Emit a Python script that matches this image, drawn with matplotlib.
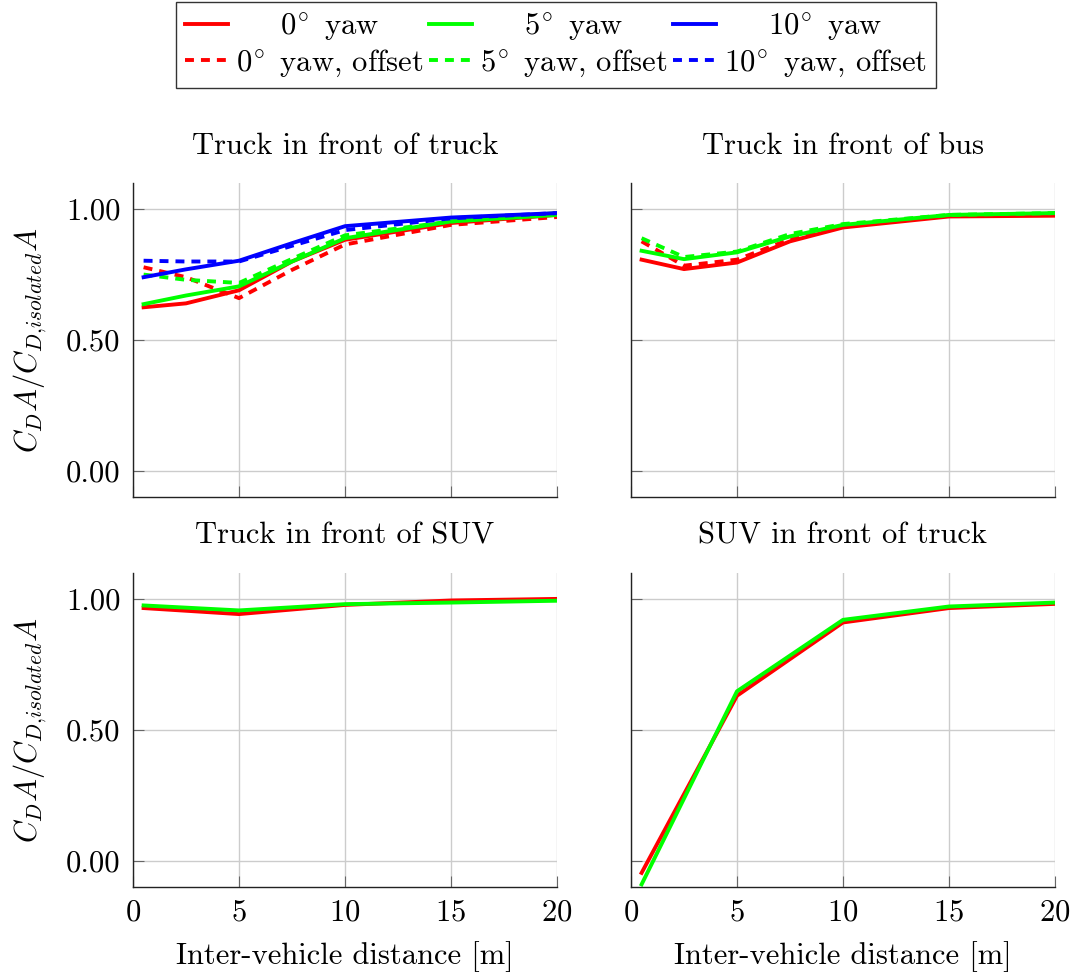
import matplotlib
matplotlib.use("Agg")
import matplotlib.pyplot as plt
from matplotlib.ticker import FormatStrFormatter

plt.rcParams['font.family'] = ['cmr10', 'DejaVu Serif']
plt.rcParams['mathtext.fontset'] = 'cm'
plt.rcParams['axes.formatter.use_mathtext'] = True
plt.rcParams['font.size'] = 22

# distances [m]
x_full = [0.5, 2.5, 5, 7.5, 10, 15, 20]
x_short = [0.5, 5, 10, 15, 20]

# Truck in front of truck
tt_0 = [0.625, 0.64, 0.69, 0.80, 0.883, 0.947, 0.978]
tt_5 = [0.637, 0.67, 0.705, 0.80, 0.889, 0.953, 0.978]
tt_10 = [0.74, 0.77, 0.803, 0.87, 0.935, 0.968, 0.985]
tt_0_off = [0.778, 0.74, 0.66, 0.768, 0.865, 0.94, 0.97]
tt_5_off = [0.75, 0.73, 0.718, 0.81, 0.90, 0.953, 0.985]
tt_10_off = [0.803, 0.80, 0.80, 0.86, 0.92, 0.965, 0.985]

# Truck in front of bus
tb_0 = [0.807, 0.771, 0.796, 0.877, 0.93, 0.972, 0.975]
tb_5 = [0.841, 0.809, 0.835, 0.896, 0.94, 0.978, 0.985]
tb_0_off = [0.877, 0.784, 0.807, 0.885, 0.934, 0.975, 0.98]
tb_5_off = [0.889, 0.817, 0.838, 0.905, 0.943, 0.978, 0.985]

# Truck in front of SUV
ts_0 = [0.966, 0.943, 0.978, 0.995, 1.001]
ts_5 = [0.976, 0.957, 0.981, 0.987, 0.994]

# SUV in front of truck
st_0 = [-0.046, 0.631, 0.911, 0.966, 0.982]
st_5 = [-0.09, 0.648, 0.921, 0.972, 0.987]

RED, GREEN, BLUE = '#ff0000', '#00ff00', '#0000ff'
LW = 2.8
DASH = (2.3, 1.8)

fig = plt.figure(figsize=(10.77, 9.73), dpi=100)
W, H = 1077, 973
def add_ax(l, r, t, b):
    return fig.add_axes([l / W, 1 - b / H, (r - l) / W, (b - t) / H])

ax1 = add_ax(133, 557, 183, 497)
ax2 = add_ax(631, 1055, 183, 497)
ax3 = add_ax(133, 557, 573, 887)
ax4 = add_ax(631, 1055, 573, 887)

h = {}
h['0'], = ax1.plot(x_full, tt_0, color=RED, lw=LW)
h['0o'], = ax1.plot(x_full, tt_0_off, color=RED, lw=LW, dashes=DASH)
h['5'], = ax1.plot(x_full, tt_5, color=GREEN, lw=LW)
h['5o'], = ax1.plot(x_full, tt_5_off, color=GREEN, lw=LW, dashes=DASH)
h['10'], = ax1.plot(x_full, tt_10, color=BLUE, lw=LW)
h['10o'], = ax1.plot(x_full, tt_10_off, color=BLUE, lw=LW, dashes=DASH)

ax2.plot(x_full, tb_0, color=RED, lw=LW)
ax2.plot(x_full, tb_0_off, color=RED, lw=LW, dashes=DASH)
ax2.plot(x_full, tb_5, color=GREEN, lw=LW)
ax2.plot(x_full, tb_5_off, color=GREEN, lw=LW, dashes=DASH)

ax3.plot(x_short, ts_0, color=RED, lw=LW)
ax3.plot(x_short, ts_5, color=GREEN, lw=LW)

ax4.plot(x_short, st_0, color=RED, lw=LW)
ax4.plot(x_short, st_5, color=GREEN, lw=LW)

titles = ['Truck in front of truck', 'Truck in front of bus',
          'Truck in front of SUV', 'SUV in front of truck']
for ax, title in zip([ax1, ax2, ax3, ax4], titles):
    ax.set_xlim(0, 20)
    ax.set_ylim(-0.1, 1.1)
    ax.set_xticks([0, 5, 10, 15, 20])
    ax.set_yticks([0.0, 0.5, 1.0])
    ax.yaxis.set_major_formatter(FormatStrFormatter('%.2f'))
    ax.grid(True, color='#cccccc', lw=1.0)
    ax.set_axisbelow(True)
    ax.spines['top'].set_visible(False)
    ax.spines['right'].set_visible(False)
    for s in ('left', 'bottom'):
        ax.spines[s].set_linewidth(1.0)
        ax.spines[s].set_color('#222222')
    ax.tick_params(direction='in', length=8, width=0.8, color='#666666')
    ax.tick_params(axis='x', pad=9)
    ax.tick_params(axis='y', pad=9)
    ax.set_title(title, fontsize=22, pad=21)

for ax in (ax1, ax2):
    ax.tick_params(labelbottom=False)
for ax in (ax2, ax4):
    ax.tick_params(labelleft=False)
for ax in (ax1, ax3):
    ax.set_ylabel(r'$C_D A/C_{D{,}isolated} A$', labelpad=12)
for ax in (ax3, ax4):
    ax.set_xlabel('Inter-vehicle distance [m]', labelpad=10)

# pad short labels so they sit centred in their legend column
pad = r'$\quad\;$ '
handles = [h['0'], h['0o'], h['5'], h['5o'], h['10'], h['10o']]
labels = [pad + r'$0^{\!\circ}$ yaw', r'$0^{\!\circ}$ yaw, offset',
          pad + r'$5^{\!\circ}$ yaw', r'$5^{\!\circ}$ yaw, offset',
          pad + r'$10^{\!\circ}$ yaw', r'$10^{\!\circ}$ yaw, offset']
fig.legend(handles, labels, ncol=3, loc='upper center',
           bbox_to_anchor=(556 / W, 1 - 2 / H), borderaxespad=0,
           frameon=True, fancybox=False, edgecolor='black',
           handlelength=1.4, columnspacing=0.2, handletextpad=0.25,
           borderpad=0.3, labelspacing=0.15)

plt.savefig('out.png', dpi=100)
